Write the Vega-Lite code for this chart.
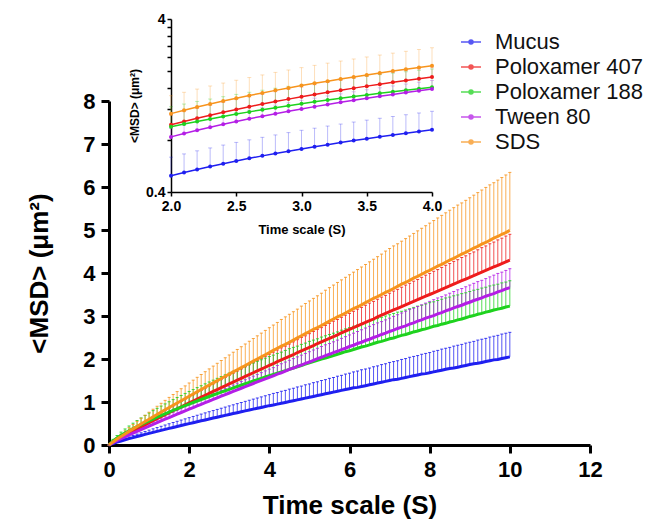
{
"$schema":"https://vega.github.io/schema/vega-lite/v6.json",
"width":481,"height":426,
"autosize":{"type":"none"},
"padding":{"left":109,"top":19,"right":61,"bottom":83},
"background":"white",
"config":{"font":"Liberation Sans","view":{"stroke":null},
"axis":{"grid":false,"domainColor":"#000","tickColor":"#000","labelColor":"#000","titleColor":"#000","labelFontWeight":"bold","titleFontWeight":"bold","labelOverlap":false,"labelFlush":false},
"legend":{"labelFont":"Liberation Sans","labelColor":"#111"}},
"datasets":{"d":[
{"s":"Mucus","t":0,"m":0,"h":0},{"s":"Mucus","t":0.1,"m":0.036,"h":0.046},{"s":"Mucus","t":0.2,"m":0.066,"h":0.084},{"s":"Mucus","t":0.3,"m":0.094,"h":0.12},{"s":"Mucus","t":0.4,"m":0.121,"h":0.154},{"s":"Mucus","t":0.5,"m":0.147,"h":0.188},{"s":"Mucus","t":0.6,"m":0.172,"h":0.22},{"s":"Mucus","t":0.7,"m":0.197,"h":0.253},{"s":"Mucus","t":0.8,"m":0.222,"h":0.284},{"s":"Mucus","t":0.9,"m":0.246,"h":0.315},{"s":"Mucus","t":1,"m":0.27,"h":0.346},{"s":"Mucus","t":1.1,"m":0.294,"h":0.376},{"s":"Mucus","t":1.2,"m":0.317,"h":0.406},{"s":"Mucus","t":1.3,"m":0.34,"h":0.435},{"s":"Mucus","t":1.4,"m":0.363,"h":0.465},{"s":"Mucus","t":1.5,"m":0.386,"h":0.494},{"s":"Mucus","t":1.6,"m":0.408,"h":0.523},{"s":"Mucus","t":1.7,"m":0.431,"h":0.551},{"s":"Mucus","t":1.8,"m":0.453,"h":0.58},{"s":"Mucus","t":1.9,"m":0.475,"h":0.608},{"s":"Mucus","t":2,"m":0.497,"h":0.636},{"s":"Mucus","t":2.1,"m":0.519,"h":0.664},{"s":"Mucus","t":2.2,"m":0.54,"h":0.692},{"s":"Mucus","t":2.3,"m":0.562,"h":0.719},{"s":"Mucus","t":2.4,"m":0.583,"h":0.747},{"s":"Mucus","t":2.5,"m":0.605,"h":0.774},{"s":"Mucus","t":2.6,"m":0.626,"h":0.801},{"s":"Mucus","t":2.7,"m":0.647,"h":0.828},{"s":"Mucus","t":2.8,"m":0.668,"h":0.855},{"s":"Mucus","t":2.9,"m":0.689,"h":0.882},{"s":"Mucus","t":3,"m":0.71,"h":0.909},{"s":"Mucus","t":3.1,"m":0.731,"h":0.935},{"s":"Mucus","t":3.2,"m":0.751,"h":0.962},{"s":"Mucus","t":3.3,"m":0.772,"h":0.988},{"s":"Mucus","t":3.4,"m":0.793,"h":1.015},{"s":"Mucus","t":3.5,"m":0.813,"h":1.041},{"s":"Mucus","t":3.6,"m":0.834,"h":1.067},{"s":"Mucus","t":3.7,"m":0.854,"h":1.093},{"s":"Mucus","t":3.8,"m":0.874,"h":1.119},{"s":"Mucus","t":3.9,"m":0.894,"h":1.145},{"s":"Mucus","t":4,"m":0.915,"h":1.171},{"s":"Mucus","t":4.1,"m":0.93,"h":1.2},{"s":"Mucus","t":4.2,"m":0.95,"h":1.22},{"s":"Mucus","t":4.3,"m":0.97,"h":1.25},{"s":"Mucus","t":4.4,"m":0.99,"h":1.27},{"s":"Mucus","t":4.5,"m":1.01,"h":1.3},{"s":"Mucus","t":4.6,"m":1.03,"h":1.32},{"s":"Mucus","t":4.7,"m":1.05,"h":1.35},{"s":"Mucus","t":4.8,"m":1.07,"h":1.37},{"s":"Mucus","t":4.9,"m":1.09,"h":1.4},{"s":"Mucus","t":5,"m":1.11,"h":1.42},{"s":"Mucus","t":5.1,"m":1.13,"h":1.45},{"s":"Mucus","t":5.2,"m":1.15,"h":1.47},{"s":"Mucus","t":5.3,"m":1.17,"h":1.5},{"s":"Mucus","t":5.4,"m":1.19,"h":1.52},{"s":"Mucus","t":5.5,"m":1.21,"h":1.55},{"s":"Mucus","t":5.6,"m":1.23,"h":1.57},{"s":"Mucus","t":5.7,"m":1.25,"h":1.6},{"s":"Mucus","t":5.8,"m":1.27,"h":1.62},{"s":"Mucus","t":5.9,"m":1.29,"h":1.65},{"s":"Mucus","t":6,"m":1.31,"h":1.67},{"s":"Mucus","t":6.1,"m":1.33,"h":1.7},{"s":"Mucus","t":6.2,"m":1.34,"h":1.72},{"s":"Mucus","t":6.3,"m":1.36,"h":1.75},{"s":"Mucus","t":6.4,"m":1.38,"h":1.77},{"s":"Mucus","t":6.5,"m":1.4,"h":1.79},{"s":"Mucus","t":6.6,"m":1.42,"h":1.82},{"s":"Mucus","t":6.7,"m":1.44,"h":1.84},{"s":"Mucus","t":6.8,"m":1.46,"h":1.87},{"s":"Mucus","t":6.9,"m":1.48,"h":1.89},{"s":"Mucus","t":7,"m":1.5,"h":1.92},{"s":"Mucus","t":7.1,"m":1.52,"h":1.94},{"s":"Mucus","t":7.2,"m":1.53,"h":1.96},{"s":"Mucus","t":7.3,"m":1.55,"h":1.99},{"s":"Mucus","t":7.4,"m":1.57,"h":2.01},{"s":"Mucus","t":7.5,"m":1.59,"h":2.04},{"s":"Mucus","t":7.6,"m":1.61,"h":2.06},{"s":"Mucus","t":7.7,"m":1.63,"h":2.08},{"s":"Mucus","t":7.8,"m":1.65,"h":2.11},{"s":"Mucus","t":7.9,"m":1.66,"h":2.13},{"s":"Mucus","t":8,"m":1.68,"h":2.15},{"s":"Mucus","t":8.1,"m":1.7,"h":2.18},{"s":"Mucus","t":8.2,"m":1.72,"h":2.2},{"s":"Mucus","t":8.3,"m":1.74,"h":2.23},{"s":"Mucus","t":8.4,"m":1.76,"h":2.25},{"s":"Mucus","t":8.5,"m":1.78,"h":2.27},{"s":"Mucus","t":8.6,"m":1.79,"h":2.3},{"s":"Mucus","t":8.7,"m":1.81,"h":2.32},{"s":"Mucus","t":8.8,"m":1.83,"h":2.34},{"s":"Mucus","t":8.9,"m":1.85,"h":2.37},{"s":"Mucus","t":9,"m":1.87,"h":2.39},{"s":"Mucus","t":9.1,"m":1.89,"h":2.41},{"s":"Mucus","t":9.2,"m":1.9,"h":2.44},{"s":"Mucus","t":9.3,"m":1.92,"h":2.46},{"s":"Mucus","t":9.4,"m":1.94,"h":2.48},{"s":"Mucus","t":9.5,"m":1.96,"h":2.51},{"s":"Mucus","t":9.6,"m":1.98,"h":2.53},{"s":"Mucus","t":9.7,"m":1.99,"h":2.55},{"s":"Mucus","t":9.8,"m":2.01,"h":2.58},{"s":"Mucus","t":9.9,"m":2.03,"h":2.6},{"s":"Mucus","t":10,"m":2.05,"h":2.62},
{"s":"Poloxamer 407","t":0,"m":0,"h":0},{"s":"Poloxamer 407","t":0.1,"m":0.062,"h":0.071},{"s":"Poloxamer 407","t":0.2,"m":0.118,"h":0.134},{"s":"Poloxamer 407","t":0.3,"m":0.171,"h":0.195},{"s":"Poloxamer 407","t":0.4,"m":0.223,"h":0.254},{"s":"Poloxamer 407","t":0.5,"m":0.273,"h":0.311},{"s":"Poloxamer 407","t":0.6,"m":0.323,"h":0.368},{"s":"Poloxamer 407","t":0.7,"m":0.372,"h":0.425},{"s":"Poloxamer 407","t":0.8,"m":0.421,"h":0.48},{"s":"Poloxamer 407","t":0.9,"m":0.469,"h":0.535},{"s":"Poloxamer 407","t":1,"m":0.517,"h":0.589},{"s":"Poloxamer 407","t":1.1,"m":0.564,"h":0.643},{"s":"Poloxamer 407","t":1.2,"m":0.611,"h":0.697},{"s":"Poloxamer 407","t":1.3,"m":0.658,"h":0.75},{"s":"Poloxamer 407","t":1.4,"m":0.705,"h":0.803},{"s":"Poloxamer 407","t":1.5,"m":0.751,"h":0.856},{"s":"Poloxamer 407","t":1.6,"m":0.797,"h":0.908},{"s":"Poloxamer 407","t":1.7,"m":0.842,"h":0.96},{"s":"Poloxamer 407","t":1.8,"m":0.888,"h":1.012},{"s":"Poloxamer 407","t":1.9,"m":0.933,"h":1.064},{"s":"Poloxamer 407","t":2,"m":0.978,"h":1.115},{"s":"Poloxamer 407","t":2.1,"m":1.023,"h":1.166},{"s":"Poloxamer 407","t":2.2,"m":1.068,"h":1.217},{"s":"Poloxamer 407","t":2.3,"m":1.112,"h":1.268},{"s":"Poloxamer 407","t":2.4,"m":1.157,"h":1.319},{"s":"Poloxamer 407","t":2.5,"m":1.201,"h":1.369},{"s":"Poloxamer 407","t":2.6,"m":1.245,"h":1.42},{"s":"Poloxamer 407","t":2.7,"m":1.289,"h":1.47},{"s":"Poloxamer 407","t":2.8,"m":1.333,"h":1.52},{"s":"Poloxamer 407","t":2.9,"m":1.377,"h":1.57},{"s":"Poloxamer 407","t":3,"m":1.421,"h":1.619},{"s":"Poloxamer 407","t":3.1,"m":1.464,"h":1.669},{"s":"Poloxamer 407","t":3.2,"m":1.507,"h":1.718},{"s":"Poloxamer 407","t":3.3,"m":1.551,"h":1.768},{"s":"Poloxamer 407","t":3.4,"m":1.594,"h":1.817},{"s":"Poloxamer 407","t":3.5,"m":1.637,"h":1.866},{"s":"Poloxamer 407","t":3.6,"m":1.68,"h":1.915},{"s":"Poloxamer 407","t":3.7,"m":1.723,"h":1.964},{"s":"Poloxamer 407","t":3.8,"m":1.766,"h":2.013},{"s":"Poloxamer 407","t":3.9,"m":1.808,"h":2.061},{"s":"Poloxamer 407","t":4,"m":1.851,"h":2.11},{"s":"Poloxamer 407","t":4.1,"m":1.89,"h":2.16},{"s":"Poloxamer 407","t":4.2,"m":1.94,"h":2.21},{"s":"Poloxamer 407","t":4.3,"m":1.98,"h":2.26},{"s":"Poloxamer 407","t":4.4,"m":2.02,"h":2.3},{"s":"Poloxamer 407","t":4.5,"m":2.06,"h":2.35},{"s":"Poloxamer 407","t":4.6,"m":2.1,"h":2.4},{"s":"Poloxamer 407","t":4.7,"m":2.15,"h":2.45},{"s":"Poloxamer 407","t":4.8,"m":2.19,"h":2.5},{"s":"Poloxamer 407","t":4.9,"m":2.23,"h":2.54},{"s":"Poloxamer 407","t":5,"m":2.27,"h":2.59},{"s":"Poloxamer 407","t":5.1,"m":2.31,"h":2.64},{"s":"Poloxamer 407","t":5.2,"m":2.36,"h":2.69},{"s":"Poloxamer 407","t":5.3,"m":2.4,"h":2.73},{"s":"Poloxamer 407","t":5.4,"m":2.44,"h":2.78},{"s":"Poloxamer 407","t":5.5,"m":2.48,"h":2.83},{"s":"Poloxamer 407","t":5.6,"m":2.52,"h":2.88},{"s":"Poloxamer 407","t":5.7,"m":2.56,"h":2.92},{"s":"Poloxamer 407","t":5.8,"m":2.61,"h":2.97},{"s":"Poloxamer 407","t":5.9,"m":2.65,"h":3.02},{"s":"Poloxamer 407","t":6,"m":2.69,"h":3.06},{"s":"Poloxamer 407","t":6.1,"m":2.73,"h":3.11},{"s":"Poloxamer 407","t":6.2,"m":2.77,"h":3.16},{"s":"Poloxamer 407","t":6.3,"m":2.81,"h":3.2},{"s":"Poloxamer 407","t":6.4,"m":2.85,"h":3.25},{"s":"Poloxamer 407","t":6.5,"m":2.89,"h":3.3},{"s":"Poloxamer 407","t":6.6,"m":2.93,"h":3.34},{"s":"Poloxamer 407","t":6.7,"m":2.98,"h":3.39},{"s":"Poloxamer 407","t":6.8,"m":3.02,"h":3.44},{"s":"Poloxamer 407","t":6.9,"m":3.06,"h":3.48},{"s":"Poloxamer 407","t":7,"m":3.1,"h":3.53},{"s":"Poloxamer 407","t":7.1,"m":3.14,"h":3.58},{"s":"Poloxamer 407","t":7.2,"m":3.18,"h":3.62},{"s":"Poloxamer 407","t":7.3,"m":3.22,"h":3.67},{"s":"Poloxamer 407","t":7.4,"m":3.26,"h":3.72},{"s":"Poloxamer 407","t":7.5,"m":3.3,"h":3.76},{"s":"Poloxamer 407","t":7.6,"m":3.34,"h":3.81},{"s":"Poloxamer 407","t":7.7,"m":3.38,"h":3.85},{"s":"Poloxamer 407","t":7.8,"m":3.42,"h":3.9},{"s":"Poloxamer 407","t":7.9,"m":3.46,"h":3.95},{"s":"Poloxamer 407","t":8,"m":3.5,"h":3.99},{"s":"Poloxamer 407","t":8.1,"m":3.54,"h":4.04},{"s":"Poloxamer 407","t":8.2,"m":3.58,"h":4.08},{"s":"Poloxamer 407","t":8.3,"m":3.62,"h":4.13},{"s":"Poloxamer 407","t":8.4,"m":3.66,"h":4.18},{"s":"Poloxamer 407","t":8.5,"m":3.7,"h":4.22},{"s":"Poloxamer 407","t":8.6,"m":3.74,"h":4.27},{"s":"Poloxamer 407","t":8.7,"m":3.78,"h":4.31},{"s":"Poloxamer 407","t":8.8,"m":3.82,"h":4.36},{"s":"Poloxamer 407","t":8.9,"m":3.86,"h":4.4},{"s":"Poloxamer 407","t":9,"m":3.9,"h":4.45},{"s":"Poloxamer 407","t":9.1,"m":3.94,"h":4.49},{"s":"Poloxamer 407","t":9.2,"m":3.98,"h":4.54},{"s":"Poloxamer 407","t":9.3,"m":4.02,"h":4.59},{"s":"Poloxamer 407","t":9.4,"m":4.06,"h":4.63},{"s":"Poloxamer 407","t":9.5,"m":4.1,"h":4.68},{"s":"Poloxamer 407","t":9.6,"m":4.14,"h":4.72},{"s":"Poloxamer 407","t":9.7,"m":4.18,"h":4.77},{"s":"Poloxamer 407","t":9.8,"m":4.22,"h":4.81},{"s":"Poloxamer 407","t":9.9,"m":4.26,"h":4.86},{"s":"Poloxamer 407","t":10,"m":4.3,"h":4.9},
{"s":"Poloxamer 188","t":0,"m":0,"h":0},{"s":"Poloxamer 188","t":0.1,"m":0.098,"h":0.131},{"s":"Poloxamer 188","t":0.2,"m":0.165,"h":0.221},{"s":"Poloxamer 188","t":0.3,"m":0.225,"h":0.3},{"s":"Poloxamer 188","t":0.4,"m":0.28,"h":0.373},{"s":"Poloxamer 188","t":0.5,"m":0.332,"h":0.442},{"s":"Poloxamer 188","t":0.6,"m":0.381,"h":0.507},{"s":"Poloxamer 188","t":0.7,"m":0.429,"h":0.57},{"s":"Poloxamer 188","t":0.8,"m":0.474,"h":0.63},{"s":"Poloxamer 188","t":0.9,"m":0.519,"h":0.688},{"s":"Poloxamer 188","t":1,"m":0.562,"h":0.744},{"s":"Poloxamer 188","t":1.1,"m":0.604,"h":0.799},{"s":"Poloxamer 188","t":1.2,"m":0.646,"h":0.853},{"s":"Poloxamer 188","t":1.3,"m":0.686,"h":0.905},{"s":"Poloxamer 188","t":1.4,"m":0.726,"h":0.956},{"s":"Poloxamer 188","t":1.5,"m":0.765,"h":1.006},{"s":"Poloxamer 188","t":1.6,"m":0.803,"h":1.056},{"s":"Poloxamer 188","t":1.7,"m":0.841,"h":1.104},{"s":"Poloxamer 188","t":1.8,"m":0.879,"h":1.152},{"s":"Poloxamer 188","t":1.9,"m":0.915,"h":1.199},{"s":"Poloxamer 188","t":2,"m":0.952,"h":1.245},{"s":"Poloxamer 188","t":2.1,"m":0.988,"h":1.29},{"s":"Poloxamer 188","t":2.2,"m":1.023,"h":1.335},{"s":"Poloxamer 188","t":2.3,"m":1.058,"h":1.379},{"s":"Poloxamer 188","t":2.4,"m":1.093,"h":1.423},{"s":"Poloxamer 188","t":2.5,"m":1.128,"h":1.466},{"s":"Poloxamer 188","t":2.6,"m":1.162,"h":1.508},{"s":"Poloxamer 188","t":2.7,"m":1.196,"h":1.55},{"s":"Poloxamer 188","t":2.8,"m":1.229,"h":1.592},{"s":"Poloxamer 188","t":2.9,"m":1.262,"h":1.633},{"s":"Poloxamer 188","t":3,"m":1.295,"h":1.674},{"s":"Poloxamer 188","t":3.1,"m":1.328,"h":1.714},{"s":"Poloxamer 188","t":3.2,"m":1.36,"h":1.753},{"s":"Poloxamer 188","t":3.3,"m":1.393,"h":1.792},{"s":"Poloxamer 188","t":3.4,"m":1.424,"h":1.831},{"s":"Poloxamer 188","t":3.5,"m":1.456,"h":1.87},{"s":"Poloxamer 188","t":3.6,"m":1.488,"h":1.908},{"s":"Poloxamer 188","t":3.7,"m":1.519,"h":1.946},{"s":"Poloxamer 188","t":3.8,"m":1.55,"h":1.983},{"s":"Poloxamer 188","t":3.9,"m":1.581,"h":2.02},{"s":"Poloxamer 188","t":4,"m":1.612,"h":2.057},{"s":"Poloxamer 188","t":4.1,"m":1.64,"h":2.09},{"s":"Poloxamer 188","t":4.2,"m":1.67,"h":2.13},{"s":"Poloxamer 188","t":4.3,"m":1.7,"h":2.16},{"s":"Poloxamer 188","t":4.4,"m":1.73,"h":2.2},{"s":"Poloxamer 188","t":4.5,"m":1.76,"h":2.24},{"s":"Poloxamer 188","t":4.6,"m":1.79,"h":2.27},{"s":"Poloxamer 188","t":4.7,"m":1.82,"h":2.3},{"s":"Poloxamer 188","t":4.8,"m":1.85,"h":2.34},{"s":"Poloxamer 188","t":4.9,"m":1.88,"h":2.37},{"s":"Poloxamer 188","t":5,"m":1.91,"h":2.41},{"s":"Poloxamer 188","t":5.1,"m":1.94,"h":2.44},{"s":"Poloxamer 188","t":5.2,"m":1.97,"h":2.47},{"s":"Poloxamer 188","t":5.3,"m":2,"h":2.51},{"s":"Poloxamer 188","t":5.4,"m":2.02,"h":2.54},{"s":"Poloxamer 188","t":5.5,"m":2.05,"h":2.57},{"s":"Poloxamer 188","t":5.6,"m":2.08,"h":2.6},{"s":"Poloxamer 188","t":5.7,"m":2.11,"h":2.63},{"s":"Poloxamer 188","t":5.8,"m":2.14,"h":2.67},{"s":"Poloxamer 188","t":5.9,"m":2.17,"h":2.7},{"s":"Poloxamer 188","t":6,"m":2.19,"h":2.73},{"s":"Poloxamer 188","t":6.1,"m":2.22,"h":2.76},{"s":"Poloxamer 188","t":6.2,"m":2.25,"h":2.79},{"s":"Poloxamer 188","t":6.3,"m":2.28,"h":2.82},{"s":"Poloxamer 188","t":6.4,"m":2.3,"h":2.85},{"s":"Poloxamer 188","t":6.5,"m":2.33,"h":2.88},{"s":"Poloxamer 188","t":6.6,"m":2.36,"h":2.91},{"s":"Poloxamer 188","t":6.7,"m":2.39,"h":2.94},{"s":"Poloxamer 188","t":6.8,"m":2.41,"h":2.97},{"s":"Poloxamer 188","t":6.9,"m":2.44,"h":3},{"s":"Poloxamer 188","t":7,"m":2.47,"h":3.03},{"s":"Poloxamer 188","t":7.1,"m":2.49,"h":3.06},{"s":"Poloxamer 188","t":7.2,"m":2.52,"h":3.09},{"s":"Poloxamer 188","t":7.3,"m":2.55,"h":3.11},{"s":"Poloxamer 188","t":7.4,"m":2.57,"h":3.14},{"s":"Poloxamer 188","t":7.5,"m":2.6,"h":3.17},{"s":"Poloxamer 188","t":7.6,"m":2.63,"h":3.2},{"s":"Poloxamer 188","t":7.7,"m":2.65,"h":3.23},{"s":"Poloxamer 188","t":7.8,"m":2.68,"h":3.25},{"s":"Poloxamer 188","t":7.9,"m":2.7,"h":3.28},{"s":"Poloxamer 188","t":8,"m":2.73,"h":3.31},{"s":"Poloxamer 188","t":8.1,"m":2.76,"h":3.33},{"s":"Poloxamer 188","t":8.2,"m":2.78,"h":3.36},{"s":"Poloxamer 188","t":8.3,"m":2.81,"h":3.39},{"s":"Poloxamer 188","t":8.4,"m":2.83,"h":3.42},{"s":"Poloxamer 188","t":8.5,"m":2.86,"h":3.44},{"s":"Poloxamer 188","t":8.6,"m":2.88,"h":3.47},{"s":"Poloxamer 188","t":8.7,"m":2.91,"h":3.49},{"s":"Poloxamer 188","t":8.8,"m":2.93,"h":3.52},{"s":"Poloxamer 188","t":8.9,"m":2.96,"h":3.54},{"s":"Poloxamer 188","t":9,"m":2.99,"h":3.57},{"s":"Poloxamer 188","t":9.1,"m":3.01,"h":3.6},{"s":"Poloxamer 188","t":9.2,"m":3.04,"h":3.62},{"s":"Poloxamer 188","t":9.3,"m":3.06,"h":3.65},{"s":"Poloxamer 188","t":9.4,"m":3.09,"h":3.67},{"s":"Poloxamer 188","t":9.5,"m":3.11,"h":3.7},{"s":"Poloxamer 188","t":9.6,"m":3.14,"h":3.72},{"s":"Poloxamer 188","t":9.7,"m":3.16,"h":3.74},{"s":"Poloxamer 188","t":9.8,"m":3.18,"h":3.77},{"s":"Poloxamer 188","t":9.9,"m":3.21,"h":3.79},{"s":"Poloxamer 188","t":10,"m":3.23,"h":3.82},
{"s":"Tween 80","t":0,"m":0,"h":0},{"s":"Tween 80","t":0.1,"m":0.053,"h":0.059},{"s":"Tween 80","t":0.2,"m":0.1,"h":0.112},{"s":"Tween 80","t":0.3,"m":0.145,"h":0.163},{"s":"Tween 80","t":0.4,"m":0.189,"h":0.212},{"s":"Tween 80","t":0.5,"m":0.233,"h":0.26},{"s":"Tween 80","t":0.6,"m":0.275,"h":0.308},{"s":"Tween 80","t":0.7,"m":0.317,"h":0.355},{"s":"Tween 80","t":0.8,"m":0.358,"h":0.401},{"s":"Tween 80","t":0.9,"m":0.399,"h":0.447},{"s":"Tween 80","t":1,"m":0.44,"h":0.493},{"s":"Tween 80","t":1.1,"m":0.48,"h":0.538},{"s":"Tween 80","t":1.2,"m":0.52,"h":0.583},{"s":"Tween 80","t":1.3,"m":0.56,"h":0.627},{"s":"Tween 80","t":1.4,"m":0.6,"h":0.672},{"s":"Tween 80","t":1.5,"m":0.639,"h":0.716},{"s":"Tween 80","t":1.6,"m":0.678,"h":0.759},{"s":"Tween 80","t":1.7,"m":0.717,"h":0.803},{"s":"Tween 80","t":1.8,"m":0.756,"h":0.846},{"s":"Tween 80","t":1.9,"m":0.794,"h":0.889},{"s":"Tween 80","t":2,"m":0.833,"h":0.932},{"s":"Tween 80","t":2.1,"m":0.871,"h":0.975},{"s":"Tween 80","t":2.2,"m":0.909,"h":1.018},{"s":"Tween 80","t":2.3,"m":0.947,"h":1.06},{"s":"Tween 80","t":2.4,"m":0.985,"h":1.103},{"s":"Tween 80","t":2.5,"m":1.022,"h":1.145},{"s":"Tween 80","t":2.6,"m":1.06,"h":1.187},{"s":"Tween 80","t":2.7,"m":1.097,"h":1.229},{"s":"Tween 80","t":2.8,"m":1.135,"h":1.271},{"s":"Tween 80","t":2.9,"m":1.172,"h":1.312},{"s":"Tween 80","t":3,"m":1.209,"h":1.354},{"s":"Tween 80","t":3.1,"m":1.246,"h":1.395},{"s":"Tween 80","t":3.2,"m":1.283,"h":1.437},{"s":"Tween 80","t":3.3,"m":1.32,"h":1.478},{"s":"Tween 80","t":3.4,"m":1.356,"h":1.519},{"s":"Tween 80","t":3.5,"m":1.393,"h":1.56},{"s":"Tween 80","t":3.6,"m":1.43,"h":1.601},{"s":"Tween 80","t":3.7,"m":1.466,"h":1.642},{"s":"Tween 80","t":3.8,"m":1.503,"h":1.683},{"s":"Tween 80","t":3.9,"m":1.539,"h":1.724},{"s":"Tween 80","t":4,"m":1.575,"h":1.764},{"s":"Tween 80","t":4.1,"m":1.61,"h":1.8},{"s":"Tween 80","t":4.2,"m":1.65,"h":1.85},{"s":"Tween 80","t":4.3,"m":1.68,"h":1.89},{"s":"Tween 80","t":4.4,"m":1.72,"h":1.93},{"s":"Tween 80","t":4.5,"m":1.76,"h":1.97},{"s":"Tween 80","t":4.6,"m":1.79,"h":2.01},{"s":"Tween 80","t":4.7,"m":1.83,"h":2.05},{"s":"Tween 80","t":4.8,"m":1.86,"h":2.09},{"s":"Tween 80","t":4.9,"m":1.9,"h":2.13},{"s":"Tween 80","t":5,"m":1.93,"h":2.17},{"s":"Tween 80","t":5.1,"m":1.97,"h":2.21},{"s":"Tween 80","t":5.2,"m":2.01,"h":2.25},{"s":"Tween 80","t":5.3,"m":2.04,"h":2.29},{"s":"Tween 80","t":5.4,"m":2.08,"h":2.33},{"s":"Tween 80","t":5.5,"m":2.11,"h":2.36},{"s":"Tween 80","t":5.6,"m":2.15,"h":2.4},{"s":"Tween 80","t":5.7,"m":2.18,"h":2.44},{"s":"Tween 80","t":5.8,"m":2.22,"h":2.48},{"s":"Tween 80","t":5.9,"m":2.25,"h":2.52},{"s":"Tween 80","t":6,"m":2.29,"h":2.56},{"s":"Tween 80","t":6.1,"m":2.32,"h":2.6},{"s":"Tween 80","t":6.2,"m":2.36,"h":2.64},{"s":"Tween 80","t":6.3,"m":2.39,"h":2.68},{"s":"Tween 80","t":6.4,"m":2.43,"h":2.72},{"s":"Tween 80","t":6.5,"m":2.46,"h":2.76},{"s":"Tween 80","t":6.6,"m":2.5,"h":2.8},{"s":"Tween 80","t":6.7,"m":2.53,"h":2.84},{"s":"Tween 80","t":6.8,"m":2.57,"h":2.87},{"s":"Tween 80","t":6.9,"m":2.6,"h":2.91},{"s":"Tween 80","t":7,"m":2.64,"h":2.95},{"s":"Tween 80","t":7.1,"m":2.67,"h":2.99},{"s":"Tween 80","t":7.2,"m":2.71,"h":3.03},{"s":"Tween 80","t":7.3,"m":2.74,"h":3.07},{"s":"Tween 80","t":7.4,"m":2.77,"h":3.11},{"s":"Tween 80","t":7.5,"m":2.81,"h":3.15},{"s":"Tween 80","t":7.6,"m":2.84,"h":3.18},{"s":"Tween 80","t":7.7,"m":2.88,"h":3.22},{"s":"Tween 80","t":7.8,"m":2.91,"h":3.26},{"s":"Tween 80","t":7.9,"m":2.95,"h":3.3},{"s":"Tween 80","t":8,"m":2.98,"h":3.34},{"s":"Tween 80","t":8.1,"m":3.01,"h":3.38},{"s":"Tween 80","t":8.2,"m":3.05,"h":3.42},{"s":"Tween 80","t":8.3,"m":3.08,"h":3.45},{"s":"Tween 80","t":8.4,"m":3.12,"h":3.49},{"s":"Tween 80","t":8.5,"m":3.15,"h":3.53},{"s":"Tween 80","t":8.6,"m":3.19,"h":3.57},{"s":"Tween 80","t":8.7,"m":3.22,"h":3.61},{"s":"Tween 80","t":8.8,"m":3.25,"h":3.64},{"s":"Tween 80","t":8.9,"m":3.29,"h":3.68},{"s":"Tween 80","t":9,"m":3.32,"h":3.72},{"s":"Tween 80","t":9.1,"m":3.36,"h":3.76},{"s":"Tween 80","t":9.2,"m":3.39,"h":3.8},{"s":"Tween 80","t":9.3,"m":3.42,"h":3.83},{"s":"Tween 80","t":9.4,"m":3.46,"h":3.87},{"s":"Tween 80","t":9.5,"m":3.49,"h":3.91},{"s":"Tween 80","t":9.6,"m":3.52,"h":3.95},{"s":"Tween 80","t":9.7,"m":3.56,"h":3.99},{"s":"Tween 80","t":9.8,"m":3.59,"h":4.02},{"s":"Tween 80","t":9.9,"m":3.63,"h":4.06},{"s":"Tween 80","t":10,"m":3.66,"h":4.1},
{"s":"SDS","t":0,"m":0,"h":0},{"s":"SDS","t":0.1,"m":0.072,"h":0.092},{"s":"SDS","t":0.2,"m":0.137,"h":0.173},{"s":"SDS","t":0.3,"m":0.198,"h":0.252},{"s":"SDS","t":0.4,"m":0.258,"h":0.328},{"s":"SDS","t":0.5,"m":0.317,"h":0.403},{"s":"SDS","t":0.6,"m":0.375,"h":0.476},{"s":"SDS","t":0.7,"m":0.432,"h":0.549},{"s":"SDS","t":0.8,"m":0.489,"h":0.621},{"s":"SDS","t":0.9,"m":0.545,"h":0.692},{"s":"SDS","t":1,"m":0.6,"h":0.762},{"s":"SDS","t":1.1,"m":0.655,"h":0.832},{"s":"SDS","t":1.2,"m":0.71,"h":0.901},{"s":"SDS","t":1.3,"m":0.764,"h":0.97},{"s":"SDS","t":1.4,"m":0.818,"h":1.038},{"s":"SDS","t":1.5,"m":0.871,"h":1.107},{"s":"SDS","t":1.6,"m":0.925,"h":1.174},{"s":"SDS","t":1.7,"m":0.978,"h":1.242},{"s":"SDS","t":1.8,"m":1.03,"h":1.309},{"s":"SDS","t":1.9,"m":1.083,"h":1.375},{"s":"SDS","t":2,"m":1.135,"h":1.442},{"s":"SDS","t":2.1,"m":1.187,"h":1.508},{"s":"SDS","t":2.2,"m":1.239,"h":1.574},{"s":"SDS","t":2.3,"m":1.291,"h":1.64},{"s":"SDS","t":2.4,"m":1.343,"h":1.705},{"s":"SDS","t":2.5,"m":1.394,"h":1.77},{"s":"SDS","t":2.6,"m":1.445,"h":1.835},{"s":"SDS","t":2.7,"m":1.496,"h":1.9},{"s":"SDS","t":2.8,"m":1.547,"h":1.965},{"s":"SDS","t":2.9,"m":1.598,"h":2.029},{"s":"SDS","t":3,"m":1.649,"h":2.094},{"s":"SDS","t":3.1,"m":1.699,"h":2.158},{"s":"SDS","t":3.2,"m":1.749,"h":2.222},{"s":"SDS","t":3.3,"m":1.8,"h":2.286},{"s":"SDS","t":3.4,"m":1.85,"h":2.349},{"s":"SDS","t":3.5,"m":1.9,"h":2.413},{"s":"SDS","t":3.6,"m":1.95,"h":2.476},{"s":"SDS","t":3.7,"m":1.999,"h":2.539},{"s":"SDS","t":3.8,"m":2.049,"h":2.602},{"s":"SDS","t":3.9,"m":2.099,"h":2.665},{"s":"SDS","t":4,"m":2.148,"h":2.728},{"s":"SDS","t":4.1,"m":2.2,"h":2.79},{"s":"SDS","t":4.2,"m":2.25,"h":2.85},{"s":"SDS","t":4.3,"m":2.3,"h":2.92},{"s":"SDS","t":4.4,"m":2.34,"h":2.98},{"s":"SDS","t":4.5,"m":2.39,"h":3.04},{"s":"SDS","t":4.6,"m":2.44,"h":3.1},{"s":"SDS","t":4.7,"m":2.49,"h":3.16},{"s":"SDS","t":4.8,"m":2.54,"h":3.23},{"s":"SDS","t":4.9,"m":2.59,"h":3.29},{"s":"SDS","t":5,"m":2.64,"h":3.35},{"s":"SDS","t":5.1,"m":2.69,"h":3.41},{"s":"SDS","t":5.2,"m":2.73,"h":3.47},{"s":"SDS","t":5.3,"m":2.78,"h":3.53},{"s":"SDS","t":5.4,"m":2.83,"h":3.6},{"s":"SDS","t":5.5,"m":2.88,"h":3.66},{"s":"SDS","t":5.6,"m":2.93,"h":3.72},{"s":"SDS","t":5.7,"m":2.98,"h":3.78},{"s":"SDS","t":5.8,"m":3.02,"h":3.84},{"s":"SDS","t":5.9,"m":3.07,"h":3.9},{"s":"SDS","t":6,"m":3.12,"h":3.96},{"s":"SDS","t":6.1,"m":3.17,"h":4.02},{"s":"SDS","t":6.2,"m":3.21,"h":4.08},{"s":"SDS","t":6.3,"m":3.26,"h":4.14},{"s":"SDS","t":6.4,"m":3.31,"h":4.2},{"s":"SDS","t":6.5,"m":3.36,"h":4.26},{"s":"SDS","t":6.6,"m":3.41,"h":4.32},{"s":"SDS","t":6.7,"m":3.45,"h":4.38},{"s":"SDS","t":6.8,"m":3.5,"h":4.44},{"s":"SDS","t":6.9,"m":3.55,"h":4.51},{"s":"SDS","t":7,"m":3.59,"h":4.57},{"s":"SDS","t":7.1,"m":3.64,"h":4.63},{"s":"SDS","t":7.2,"m":3.69,"h":4.68},{"s":"SDS","t":7.3,"m":3.74,"h":4.74},{"s":"SDS","t":7.4,"m":3.78,"h":4.8},{"s":"SDS","t":7.5,"m":3.83,"h":4.86},{"s":"SDS","t":7.6,"m":3.88,"h":4.92},{"s":"SDS","t":7.7,"m":3.92,"h":4.98},{"s":"SDS","t":7.8,"m":3.97,"h":5.04},{"s":"SDS","t":7.9,"m":4.02,"h":5.1},{"s":"SDS","t":8,"m":4.06,"h":5.16},{"s":"SDS","t":8.1,"m":4.11,"h":5.22},{"s":"SDS","t":8.2,"m":4.16,"h":5.28},{"s":"SDS","t":8.3,"m":4.2,"h":5.34},{"s":"SDS","t":8.4,"m":4.25,"h":5.4},{"s":"SDS","t":8.5,"m":4.3,"h":5.46},{"s":"SDS","t":8.6,"m":4.34,"h":5.52},{"s":"SDS","t":8.7,"m":4.39,"h":5.58},{"s":"SDS","t":8.8,"m":4.44,"h":5.63},{"s":"SDS","t":8.9,"m":4.48,"h":5.69},{"s":"SDS","t":9,"m":4.53,"h":5.75},{"s":"SDS","t":9.1,"m":4.58,"h":5.81},{"s":"SDS","t":9.2,"m":4.62,"h":5.87},{"s":"SDS","t":9.3,"m":4.67,"h":5.93},{"s":"SDS","t":9.4,"m":4.71,"h":5.99},{"s":"SDS","t":9.5,"m":4.76,"h":6.05},{"s":"SDS","t":9.6,"m":4.81,"h":6.1},{"s":"SDS","t":9.7,"m":4.85,"h":6.16},{"s":"SDS","t":9.8,"m":4.9,"h":6.22},{"s":"SDS","t":9.9,"m":4.94,"h":6.28},{"s":"SDS","t":10,"m":4.99,"h":6.34}
]},
"data":{"name":"d"},
"encoding":{"color":{"field":"s","type":"nominal","sort":null,
"scale":{"domain":["Mucus","Poloxamer 407","Poloxamer 188","Tween 80","SDS"],"range":["#1f1ff0","#ee1c1c","#1ed21e","#b41ee6","#f7941d"]},
"legend":{"title":null,"orient":"none","legendX":351,"legendY":12,"padding":0,"symbolType":"M-1,0L1,0M-0.2,0A0.2,0.2,0,1,0,0.2,0A0.2,0.2,0,1,0,-0.2,0","symbolSize":400,"symbolStrokeWidth":1.5,"labelFontSize":22,"labelOffset":13,"rowPadding":3}}},
"layer":[
{"encoding":{
"x":{"field":"t","type":"quantitative","scale":{"domain":[0,12],"nice":false,"zero":false},
"axis":{"values":[0,2,4,6,8,10,12],"title":"Time scale (S)","titleFontSize":26,"titlePadding":12,"labelFontSize":22,"labelPadding":6,"domainWidth":3,"tickWidth":3,"tickSize":8}},
"y":{"field":"m","type":"quantitative","scale":{"domain":[0,8],"range":[426,82],"nice":false},
"axis":{"values":[0,1,2,3,4,5,6,7,8],"title":"<MSD> (μm²)","titleFontSize":26,"titlePadding":30,"labelFontSize":22,"labelPadding":6,"domainWidth":3,"tickWidth":3,"tickSize":8}}},
"layer":[
{"mark":{"type":"rule","strokeWidth":1,"opacity":0.75},"encoding":{"y2":{"field":"h"}}},
{"mark":{"type":"tick","orient":"horizontal","size":3,"thickness":1,"opacity":0.85},"encoding":{"y":{"field":"h","type":"quantitative","axis":{"values":[0,1,2,3,4,5,6,7,8],"title":"<MSD> (μm²)","titleFontSize":26,"titlePadding":30,"labelFontSize":22,"labelPadding":6,"domainWidth":3,"tickWidth":3,"tickSize":8}}}},
{"mark":{"type":"line","strokeWidth":3}}
]},
{"transform":[{"filter":"datum.t >= 2 && datum.t <= 4"}],
"encoding":{
"x":{"field":"t","type":"quantitative","scale":{"domain":[2,4],"range":[62,323],"nice":false,"zero":false},
"axis":{"orient":"bottom","offset":-253,"values":[2,2.5,3,3.5,4],"format":".1f","title":"Time scale (S)","titleFontSize":13,"titlePadding":10,"labelFontSize":14,"labelPadding":3,"domainWidth":1.5,"tickWidth":1.5,"tickSize":4}},
"y":{"field":"m","type":"quantitative","scale":{"type":"log","domain":[0.4,4],"range":[173,0],"nice":false},
"axis":{"orient":"left","offset":-62,"values":[0.4,0.8,1.2,1.6,2,2.4,2.8,3.2,3.6,4],"labelExpr":"abs(datum.value-4)<0.001 ? '4' : (abs(datum.value-0.4)<0.001 ? '0.4' : '')","title":"<MSD> (μm²)","titleFontSize":12,"titlePadding":4,"labelFontSize":14,"labelPadding":2,"domainWidth":1.5,"tickWidth":1.5,"tickSize":4}}},
"layer":[
{"mark":{"type":"rule","strokeWidth":1,"opacity":0.3},"encoding":{"y2":{"field":"h"}}},
{"mark":{"type":"tick","orient":"horizontal","size":4,"thickness":1,"opacity":0.3},"encoding":{"y":{"field":"h","type":"quantitative","axis":{"orient":"left","offset":-62,"values":[0.4,0.8,1.2,1.6,2,2.4,2.8,3.2,3.6,4],"labelExpr":"abs(datum.value-4)<0.001 ? '4' : (abs(datum.value-0.4)<0.001 ? '0.4' : '')","title":"<MSD> (μm²)","titleFontSize":12,"titlePadding":4,"labelFontSize":14,"labelPadding":2,"domainWidth":1.5,"tickWidth":1.5,"tickSize":4}}}},
{"mark":{"type":"line","strokeWidth":1.5}},
{"mark":{"type":"circle","size":16,"opacity":1}}
]}
],
"resolve":{"scale":{"x":"independent","y":"independent"}}
}
